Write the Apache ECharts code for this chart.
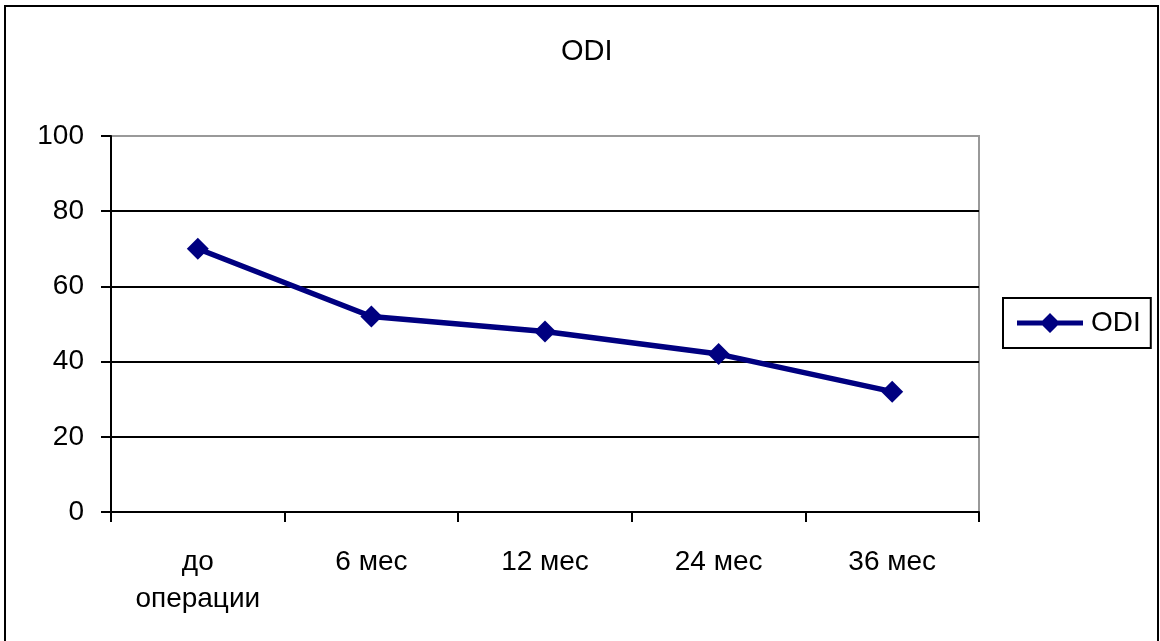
<!DOCTYPE html>
<html>
<head>
<meta charset="utf-8">
<script src="https://cdn.jsdelivr.net/npm/echarts@6/dist/echarts.min.js"></script>
<style>html,body{margin:0;padding:0;background:#fff;}#c{width:1160px;height:641px;}</style>
</head>
<body>
<div id="c"></div>
<script>
const categories = ['до\nоперации', '6 мес', '12 мес', '24 мес', '36 мес'];
const odiValues = [70, 52, 48, 42, 32];
const seriesName = 'ODI';
const titleText = 'ODI';

const chart = echarts.init(document.getElementById('c'), null, {renderer: 'canvas'});
const font = 'Liberation Sans, Arial, sans-serif';
chart.setOption({
  backgroundColor: '#fff',
  animation: false,
  title: {
    text: titleText,
    left: 556, top: 32,
    textStyle: {fontFamily: font, fontSize: 29, fontWeight: 'normal', color: '#000'}
  },
  legend: {
    data: [{name: seriesName, icon: 'path://M0,7.5L25.5,7.5L33,0L40.5,7.5L66,7.5L66,12.5L40.5,12.5L33,20L25.5,12.5L0,12.5Z'}],
    left: 1003, top: 298,
    orient: 'vertical',
    padding: [11, 10, 11, 14],
    borderColor: '#000', borderWidth: 2, borderRadius: 0,
    itemWidth: 66, itemHeight: 20,
    itemStyle: {color: '#000080'},
    textStyle: {fontFamily: font, fontSize: 28, color: '#000', padding: [0, 0, 0, 3]}
  },
  grid: {
    left: 111, right: 181, top: 136, bottom: 129,
    show: true, borderColor: '#999', borderWidth: 2, backgroundColor: '#fff'
  },
  xAxis: {
    type: 'category',
    data: categories,
    boundaryGap: true,
    axisLine: {lineStyle: {color: '#000', width: 2}},
    axisTick: {show: true, length: 10, lineStyle: {color: '#000', width: 2}},
    axisLabel: {fontFamily: font, fontSize: 28, color: '#000', margin: 32, lineHeight: 37, interval: 0}
  },
  yAxis: {
    type: 'value',
    min: 0, max: 100, interval: 20,
    axisLine: {show: true, lineStyle: {color: '#000', width: 2}},
    axisTick: {show: true, length: 10, lineStyle: {color: '#000', width: 2}},
    axisLabel: {fontFamily: font, fontSize: 28, color: '#000', margin: 27},
    splitLine: {show: true, showMaxLine: false, showMinLine: false, lineStyle: {color: '#000', width: 2}}
  },
  graphic: [{
    type: 'rect', silent: true,
    shape: {x: 5, y: 6, width: 1153, height: 645},
    style: {fill: null, stroke: '#000', lineWidth: 2}
  }],
  series: [{
    name: seriesName,
    type: 'line',
    data: odiValues,
    symbol: 'diamond',
    symbolSize: 22,
    lineStyle: {color: '#000080', width: 5.5},
    itemStyle: {color: '#000080'},
    color: '#000080'
  }]
});
</script>
</body>
</html>
